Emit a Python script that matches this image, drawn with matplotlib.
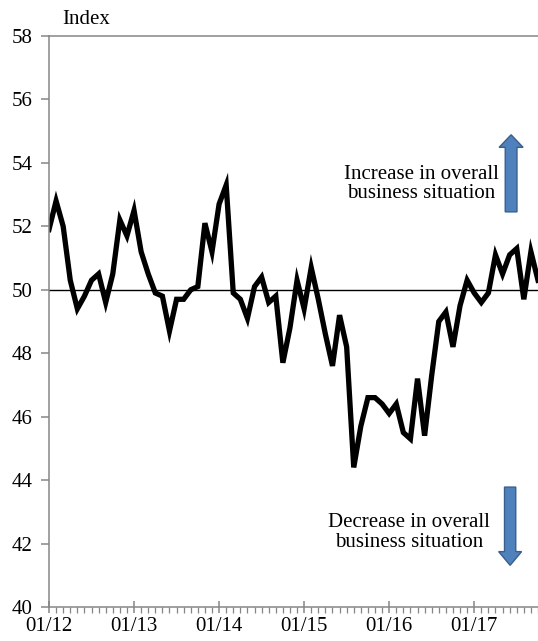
import numpy as np
import matplotlib
matplotlib.use('Agg')
import matplotlib.pyplot as plt
from matplotlib.patches import FancyArrow
from matplotlib.ticker import MultipleLocator

# monthly index, Jan 2012 onwards
values = [51.9, 52.8, 52.0, 50.3, 49.4, 49.8, 50.3, 50.5, 49.6, 50.5, 52.2, 51.7,
          52.5, 51.2, 50.5, 49.9, 49.8, 48.7, 49.7, 49.7, 50.0, 50.1, 52.1, 51.2,
          52.7, 53.3, 49.9, 49.7, 49.1, 50.1, 50.4, 49.6, 49.8, 47.7, 48.8, 50.3,
          49.4, 50.7, 49.7, 48.6, 47.6, 49.2, 48.2, 44.4, 45.7, 46.6, 46.6, 46.4,
          46.1, 46.4, 45.5, 45.3, 47.2, 45.4, 47.3, 49.0, 49.3, 48.2, 49.5, 50.3,
          49.9, 49.6, 49.9, 51.1, 50.5, 51.1, 51.3, 49.7, 51.2, 50.3]
year_labels = ['01/12', '01/13', '01/14', '01/15', '01/16', '01/17']
y_ticks = list(range(40, 59, 2))

plt.rcParams['font.family'] = ['Liberation Serif', 'DejaVu Serif']

fig = plt.figure(figsize=(5.38, 6.41), dpi=100)
ax = fig.add_axes([49 / 538, 1 - 607 / 641, 489 / 538, 571 / 641])

months = np.arange(len(values))
ax.plot(months, values, color='black', lw=3.8, solid_joinstyle='miter', clip_on=True)
ax.axhline(50, color='black', lw=1.0)

ax.set_xlim(0, len(values) - 1)
ax.set_ylim(40, 58)
ax.set_yticks(y_ticks)
ax.set_xticks(np.arange(len(year_labels)) * 12)
ax.set_xticklabels(year_labels)
ax.xaxis.set_minor_locator(MultipleLocator(1))

gray = '#868686'
for s in ['left', 'bottom', 'top']:
    ax.spines[s].set_color(gray)
    ax.spines[s].set_linewidth(1.1)
ax.spines['right'].set_visible(False)

ax.tick_params(axis='y', direction='out', length=6, width=1.1, color=gray,
               labelsize=15, pad=6)
ax.tick_params(axis='x', which='major', direction='inout', length=9, width=1.1,
               color=gray, labelsize=15, pad=3)
ax.tick_params(axis='x', which='minor', direction='out', length=4, width=0.9, color=gray)

fig.text(62 / 538, 1 - 20 / 641, 'Index', fontsize=15, va='center', ha='left')

ax.text(0.762, 0.741, 'Increase in overall\nbusiness situation', transform=ax.transAxes,
        fontsize=15, ha='center', va='center', linespacing=1.05)
ax.text(0.737, 0.13, 'Decrease in overall\nbusiness situation', transform=ax.transAxes,
        fontsize=15, ha='center', va='center', linespacing=1.05)

fill = '#4F81BD'
edge = '#3A5F8B'
up = FancyArrow(0.945, 0.692, 0, 0.135, width=0.024, head_width=0.049,
                head_length=0.022, length_includes_head=True, transform=ax.transAxes,
                fc=fill, ec=edge, lw=1, clip_on=False)
down = FancyArrow(0.943, 0.210, 0, -0.137, width=0.023, head_width=0.047,
                  head_length=0.024, length_includes_head=True, transform=ax.transAxes,
                  fc=fill, ec=edge, lw=1, clip_on=False)
ax.add_patch(up)
ax.add_patch(down)

fig.savefig('out.png', dpi=100)
